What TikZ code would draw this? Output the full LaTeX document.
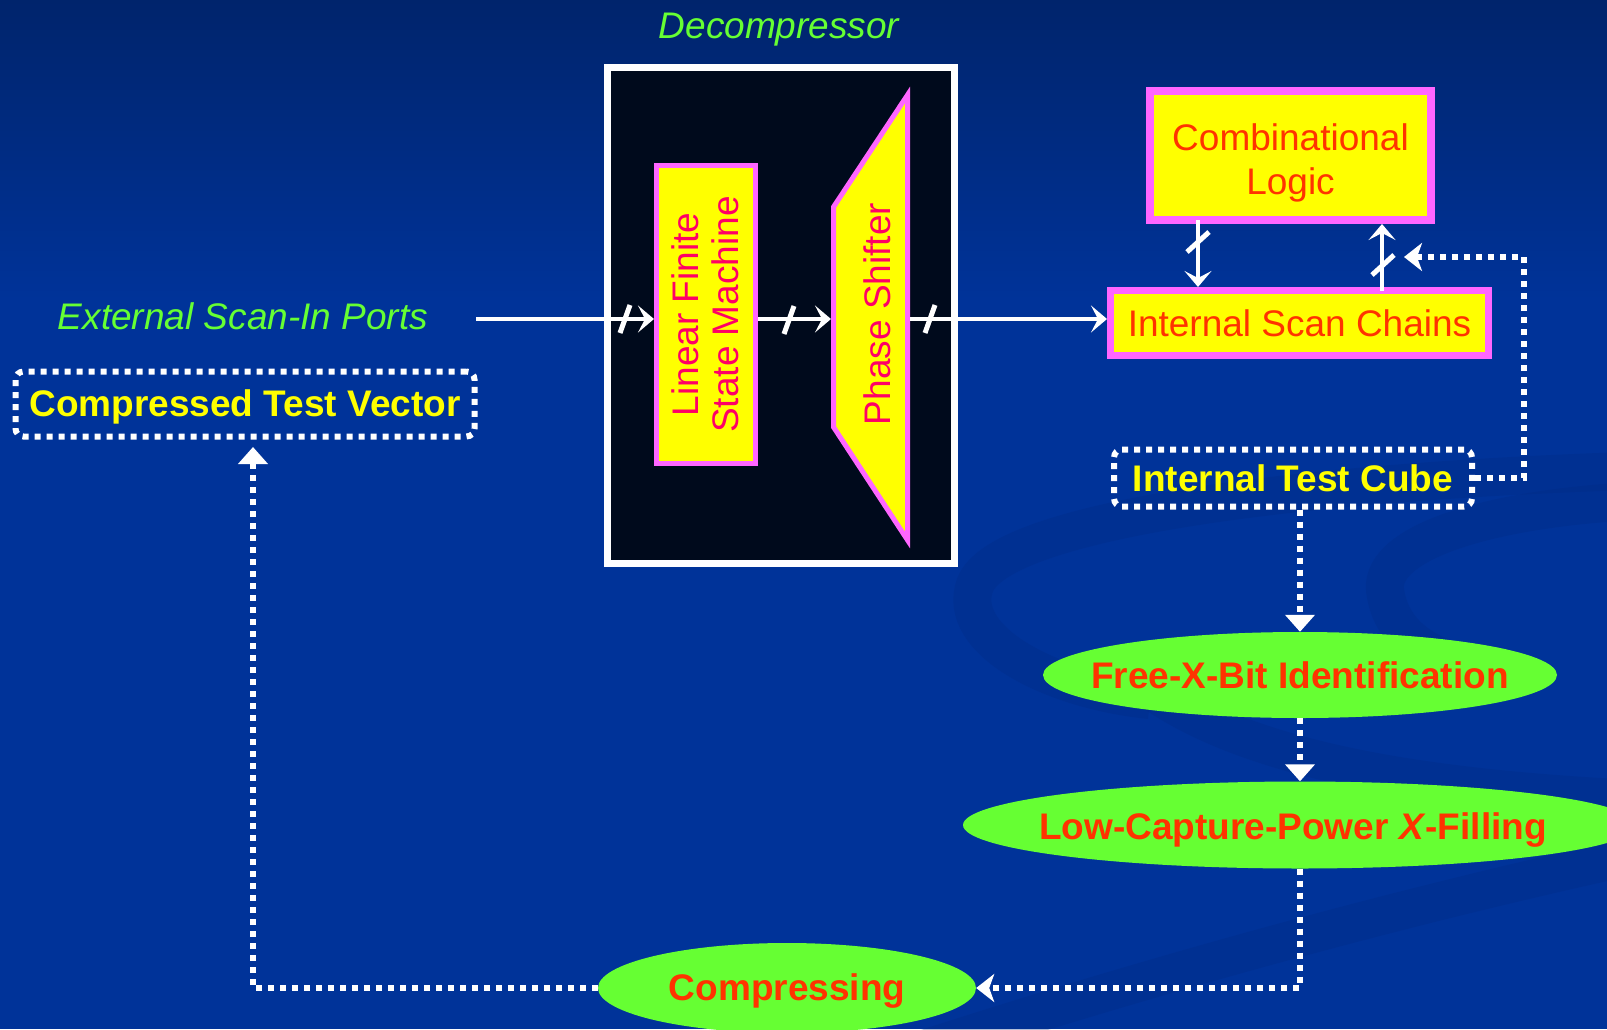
\documentclass[tikz,border=0pt]{standalone}
\usepackage{fontspec}
\setmainfont{Liberation Sans}
\usepackage{graphicx}
\usetikzlibrary{arrows.meta,shapes.geometric,calc}

\definecolor{bgtop}{HTML}{00246C}
\definecolor{bgblue}{HTML}{003399}
\definecolor{swirlblue}{HTML}{002A82}
\definecolor{decompfill}{HTML}{000A1C}
\definecolor{pinkedge}{HTML}{FF66FF}
\definecolor{boxyellow}{HTML}{FFFF00}
\definecolor{flowgreen}{HTML}{66FF33}
\definecolor{flowred}{HTML}{FF3300}
\definecolor{blockred}{HTML}{FF0066}

\newcommand\dgfont{\fontsize{37}{44}\selectfont}
% lowers a text line inside its node by half of the given extra height
\newcommand\droptext[2]{\raisebox{0pt}[\dimexpr\height+#1\relax]{#2}}

\tikzset{
  pinkbox/.style={draw=pinkedge, fill=boxyellow, line width=5pt, inner sep=0pt},
  dotbox/.style={draw=white, line width=6pt, dash pattern=on 6pt off 6pt,
    rounded corners=8pt, inner sep=0pt, text=boxyellow, font=\dgfont\bfseries},
  flowell/.style={ellipse, fill=flowgreen, inner sep=0pt, text=flowred, font=\dgfont\bfseries},
  busarrow/.style={draw=white, line width=4.5pt, -{Stealth[length=16pt, width=27pt, inset=7pt]}},
  dotline/.style={draw=white, line width=6pt, dash pattern=on 6pt off 6pt},
  dotarrow/.style={dotline, -{Triangle[length=17pt, width=29pt]}},
  dotstealth/.style={dotline, -{Stealth[length=18pt, width=28pt, inset=5pt]}},
  slashmark/.style={draw=white, line width=5pt},
  swirl/.style={draw=swirlblue, line width=38pt, opacity=0.3},
  greenlabel/.style={text=flowgreen, font=\dgfont\itshape, inner sep=0pt}
}

\begin{document}
\begin{tikzpicture}[x=1pt, y=-1pt]
  % page and background
  \useasboundingbox (0,0) rectangle (1607,1029);
  \fill[bgblue] (0,0) rectangle (1607,1029);
  \shade[top color=bgtop, bottom color=bgblue] (0,0) rectangle (1607,300);

  % faint background swirls
  \draw[swirl] (1660,470) .. controls (1300,480) and (1000,520) .. (975,585)
               .. controls (955,640) and (1050,690) .. (1150,700);
  \draw[swirl] (1660,500) .. controls (1500,505) and (1380,540) .. (1385,590)
               .. controls (1390,630) and (1420,650) .. (1450,660);
  \draw[swirl] (860,1070) .. controls (1100,990) and (1380,910) .. (1660,850);
  \draw[swirl] (1150,690) .. controls (1250,760) and (1420,790) .. (1660,800);

  % decompressor block
  \node[greenlabel] (declbl) at (779,30) {Decompressor};
  \node[draw=white, line width=7pt, fill=decompfill, minimum width=347pt,
        minimum height=496pt, inner sep=0pt] (dec) at (780.5,315) {};
  \node[pinkbox, minimum width=99pt, minimum height=298pt] (lfsm) at (706,314.5) {};
  \node[text=blockred, font=\fontsize{37}{40}\selectfont, inner sep=0pt] (lfsmtext)
        at (710,314.5)
        {\rotatebox{90}{\begin{tabular}{@{}c@{}}Linear Finite\\State Machine\end{tabular}}};
  \draw[draw=pinkedge, fill=boxyellow, line width=5pt]
        (833.5,207) -- (907.5,95) -- (907.5,540) -- (833.5,427) -- cycle;
  \node[text=blockred, font=\dgfont, inner sep=0pt] (ps) at (877,314)
        {\rotatebox{90}{Phase Shifter}};
  \coordinate (psin) at (831,319);
  \coordinate (psout) at (910,319);

  % circuit under test
  \node[pinkbox, line width=8pt, minimum width=281pt, minimum height=129pt] (cl)
        at (1290.5,155.5) {};
  \node[text=flowred, font=\dgfont, align=center, inner sep=0pt] (cltext)
        at (1290.5,163) {Combinational\\Logic};
  \node[pinkbox, line width=7pt, minimum width=378pt, minimum height=65pt,
        text=flowred, font=\dgfont] (isc) at (1299.5,323) {Internal Scan Chains};

  % ports and test data
  \node[greenlabel] (ports) at (243,316) {External Scan-In Ports};
  \coordinate (portend) at (476,319);
  \node[dotbox, minimum width=459pt, minimum height=65pt] (ctv) at (245,404)
        {\droptext{6pt}{Compressed Test Vector}};
  \node[dotbox, minimum width=358pt, minimum height=57pt] (itc) at (1293,478)
        {Internal Test Cube};

  % flow steps
  \node[flowell, minimum width=514pt, minimum height=86pt] (fx) at (1300,675)
        {\makebox[0pt]{Free-X-Bit Identification}};
  \node[flowell, minimum width=674pt, minimum height=87pt] (lc) at (1300,825)
        {\makebox[0pt]{\hspace*{-14pt}\droptext{10pt}{Low-Capture-Power \textit{X}-Filling}}};
  \node[flowell, minimum width=378pt, minimum height=90pt] (cmp) at (787,988)
        {\makebox[0pt]{\droptext{6pt}{Compressing}}};

  % scan data path
  \draw[busarrow] (portend) -- (portend -| lfsm.west);
  \draw[busarrow] (lfsm.east |- portend) -- (psin);
  \draw[busarrow] (psout) -- (psout -| isc.west);
  \draw[slashmark] (620,333) -- (630,305);
  \draw[slashmark] (784,334) -- (794,306);
  \draw[slashmark] (925,333) -- (935,305);

  % logic <-> scan chains
  \coordinate (dnx) at (1198,0);
  \coordinate (upx) at (1382,0);
  \draw[busarrow] ($(cl.south -| dnx)+(0,-4)$) -- (isc.north -| dnx);
  \draw[busarrow] ($(isc.north -| upx)+(0,4)$) -- (cl.south -| upx);
  \draw[slashmark] (1187,252) -- (1209,232);
  \draw[slashmark] (1372,275) -- (1394,255);

  % test cube flow
  \coordinate (fbk) at (1404,257);
  \coordinate (corner) at (1524,257);
  \coordinate (ctvin) at (253,447);
  \draw[dotstealth] (itc.east) -- (itc.east -| corner) |- (fbk);
  \draw[dotarrow] (fx.north |- itc.south) -- (fx.north);
  \draw[dotarrow] (fx.south) -- (lc.north);
  \draw[dotstealth] (lc.south) |- (cmp.east);
  \draw[dotarrow] (cmp.west) -| (ctvin);
\end{tikzpicture}
\end{document}
